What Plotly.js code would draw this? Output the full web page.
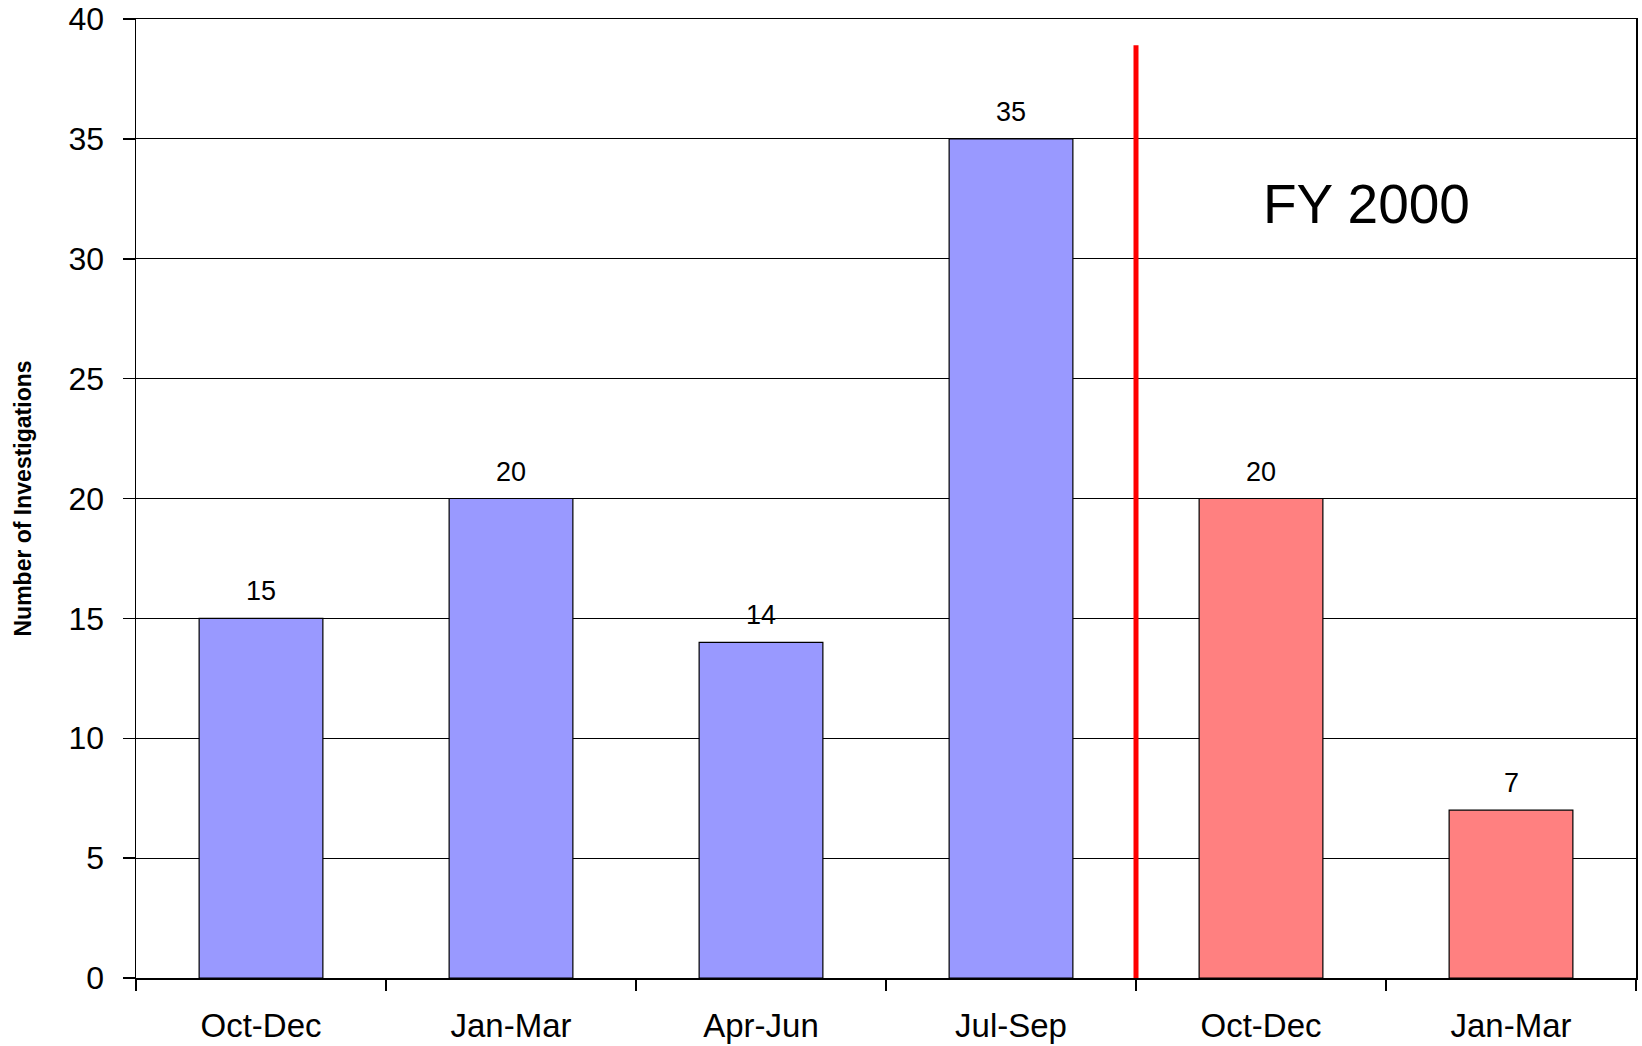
<!DOCTYPE html>
<html>
<head>
<meta charset="utf-8">
<script src="https://cdn.plot.ly/plotly-3.0.1.min.js"></script>
<style>html,body{margin:0;padding:0;background:#fff;}#chart{width:1642px;height:1046px;}</style>
</head>
<body>
<div id="chart"></div>
<script>
// Data
const categories = ["Oct-Dec", "Jan-Mar", "Apr-Jun", "Jul-Sep", "Oct-Dec", "Jan-Mar"];
const investigations = [15, 20, 14, 35, 20, 7];
const fiscalYear = ["FY1999", "FY1999", "FY1999", "FY1999", "FY2000", "FY2000"];
const yearColors = { "FY1999": "#9999FF", "FY2000": "#FF8080" };
const dividerTop = 38.9;           // top of the red separator line (in data units)
const yTicks = [0, 5, 10, 15, 20, 25, 30, 35, 40];
const fyLabel = "FY 2000";

const xIdx = categories.map((_, i) => i);
const boundaries = categories.map((_, i) => i - 0.5).concat([categories.length - 0.5]);
const firstFY2000 = fiscalYear.indexOf("FY2000");
const dividerX = [firstFY2000 - 0.5, firstFY2000 - 0.5];
const dividerY = [0, dividerTop];

const font = "Liberation Sans, Arial, sans-serif";

const traces = [
  {
    type: "bar",
    x: xIdx,
    y: investigations,
    marker: { color: fiscalYear.map(f => yearColors[f]), line: { color: "#000", width: 1.2 } },
    width: 0.495,
    hoverinfo: "y",
    showlegend: false
  },
  {
    type: "scatter",
    mode: "lines",
    xaxis: "x2",
    yaxis: "y",
    x: dividerX,
    y: dividerY,
    line: { color: "#FF0000", width: 5 },
    hoverinfo: "skip",
    showlegend: false
  }
];

const annotations = investigations.map((v, i) => ({
  x: i, y: v, xref: "x", yref: "y",
  text: String(v), showarrow: false,
  yanchor: "bottom", xanchor: "center", yshift: 10,
  font: { family: font, size: 27, color: "#000" }
}));
annotations.push({
  x: 4.42, y: 32.3, xref: "x", yref: "y",
  text: fyLabel, showarrow: false,
  xanchor: "center", yanchor: "middle",
  font: { family: font, size: 55, color: "#000" }
});

const layout = {
  width: 1642, height: 1046,
  margin: { l: 136, r: 6, t: 19, b: 68 },
  paper_bgcolor: "#fff", plot_bgcolor: "#fff",
  font: { family: font, color: "#000" },
  xaxis: {
    range: [-0.5, categories.length - 0.5],
    tickmode: "array", tickvals: boundaries, ticktext: boundaries.map(() => ""),
    ticks: "outside", ticklen: 11, tickwidth: 1.5, tickcolor: "#000",
    showgrid: false, zeroline: false,
    showline: true, linecolor: "#000", linewidth: 1.5, mirror: true,
    fixedrange: true
  },
  xaxis2: {
    overlaying: "x", anchor: "y", side: "bottom",
    range: [-0.5, categories.length - 0.5],
    tickmode: "array", tickvals: xIdx, ticktext: categories,
    ticks: "", showgrid: false, zeroline: false, showline: false,
    tickfont: { family: font, size: 33, color: "#000" },
    ticklabelstandoff: 25,
    fixedrange: true
  },
  yaxis: {
    range: [0, 40],
    tickmode: "array", tickvals: yTicks,
    ticks: "outside", ticklen: 12, tickwidth: 1.5, tickcolor: "#000",
    tickfont: { family: font, size: 32, color: "#000" },
    ticklabelstandoff: 12,
    showgrid: true, gridcolor: "#000", gridwidth: 1,
    zeroline: false,
    showline: true, linecolor: "#000", linewidth: 1.5, mirror: true,
    title: { text: "<b>Number of Investigations</b>", font: { family: font, size: 23, color: "#000" }, standoff: 30 },
    fixedrange: true
  },
  annotations: annotations,
  showlegend: false
};

Plotly.newPlot("chart", traces, layout, { displayModeBar: false, staticPlot: true });
</script>
</body>
</html>
